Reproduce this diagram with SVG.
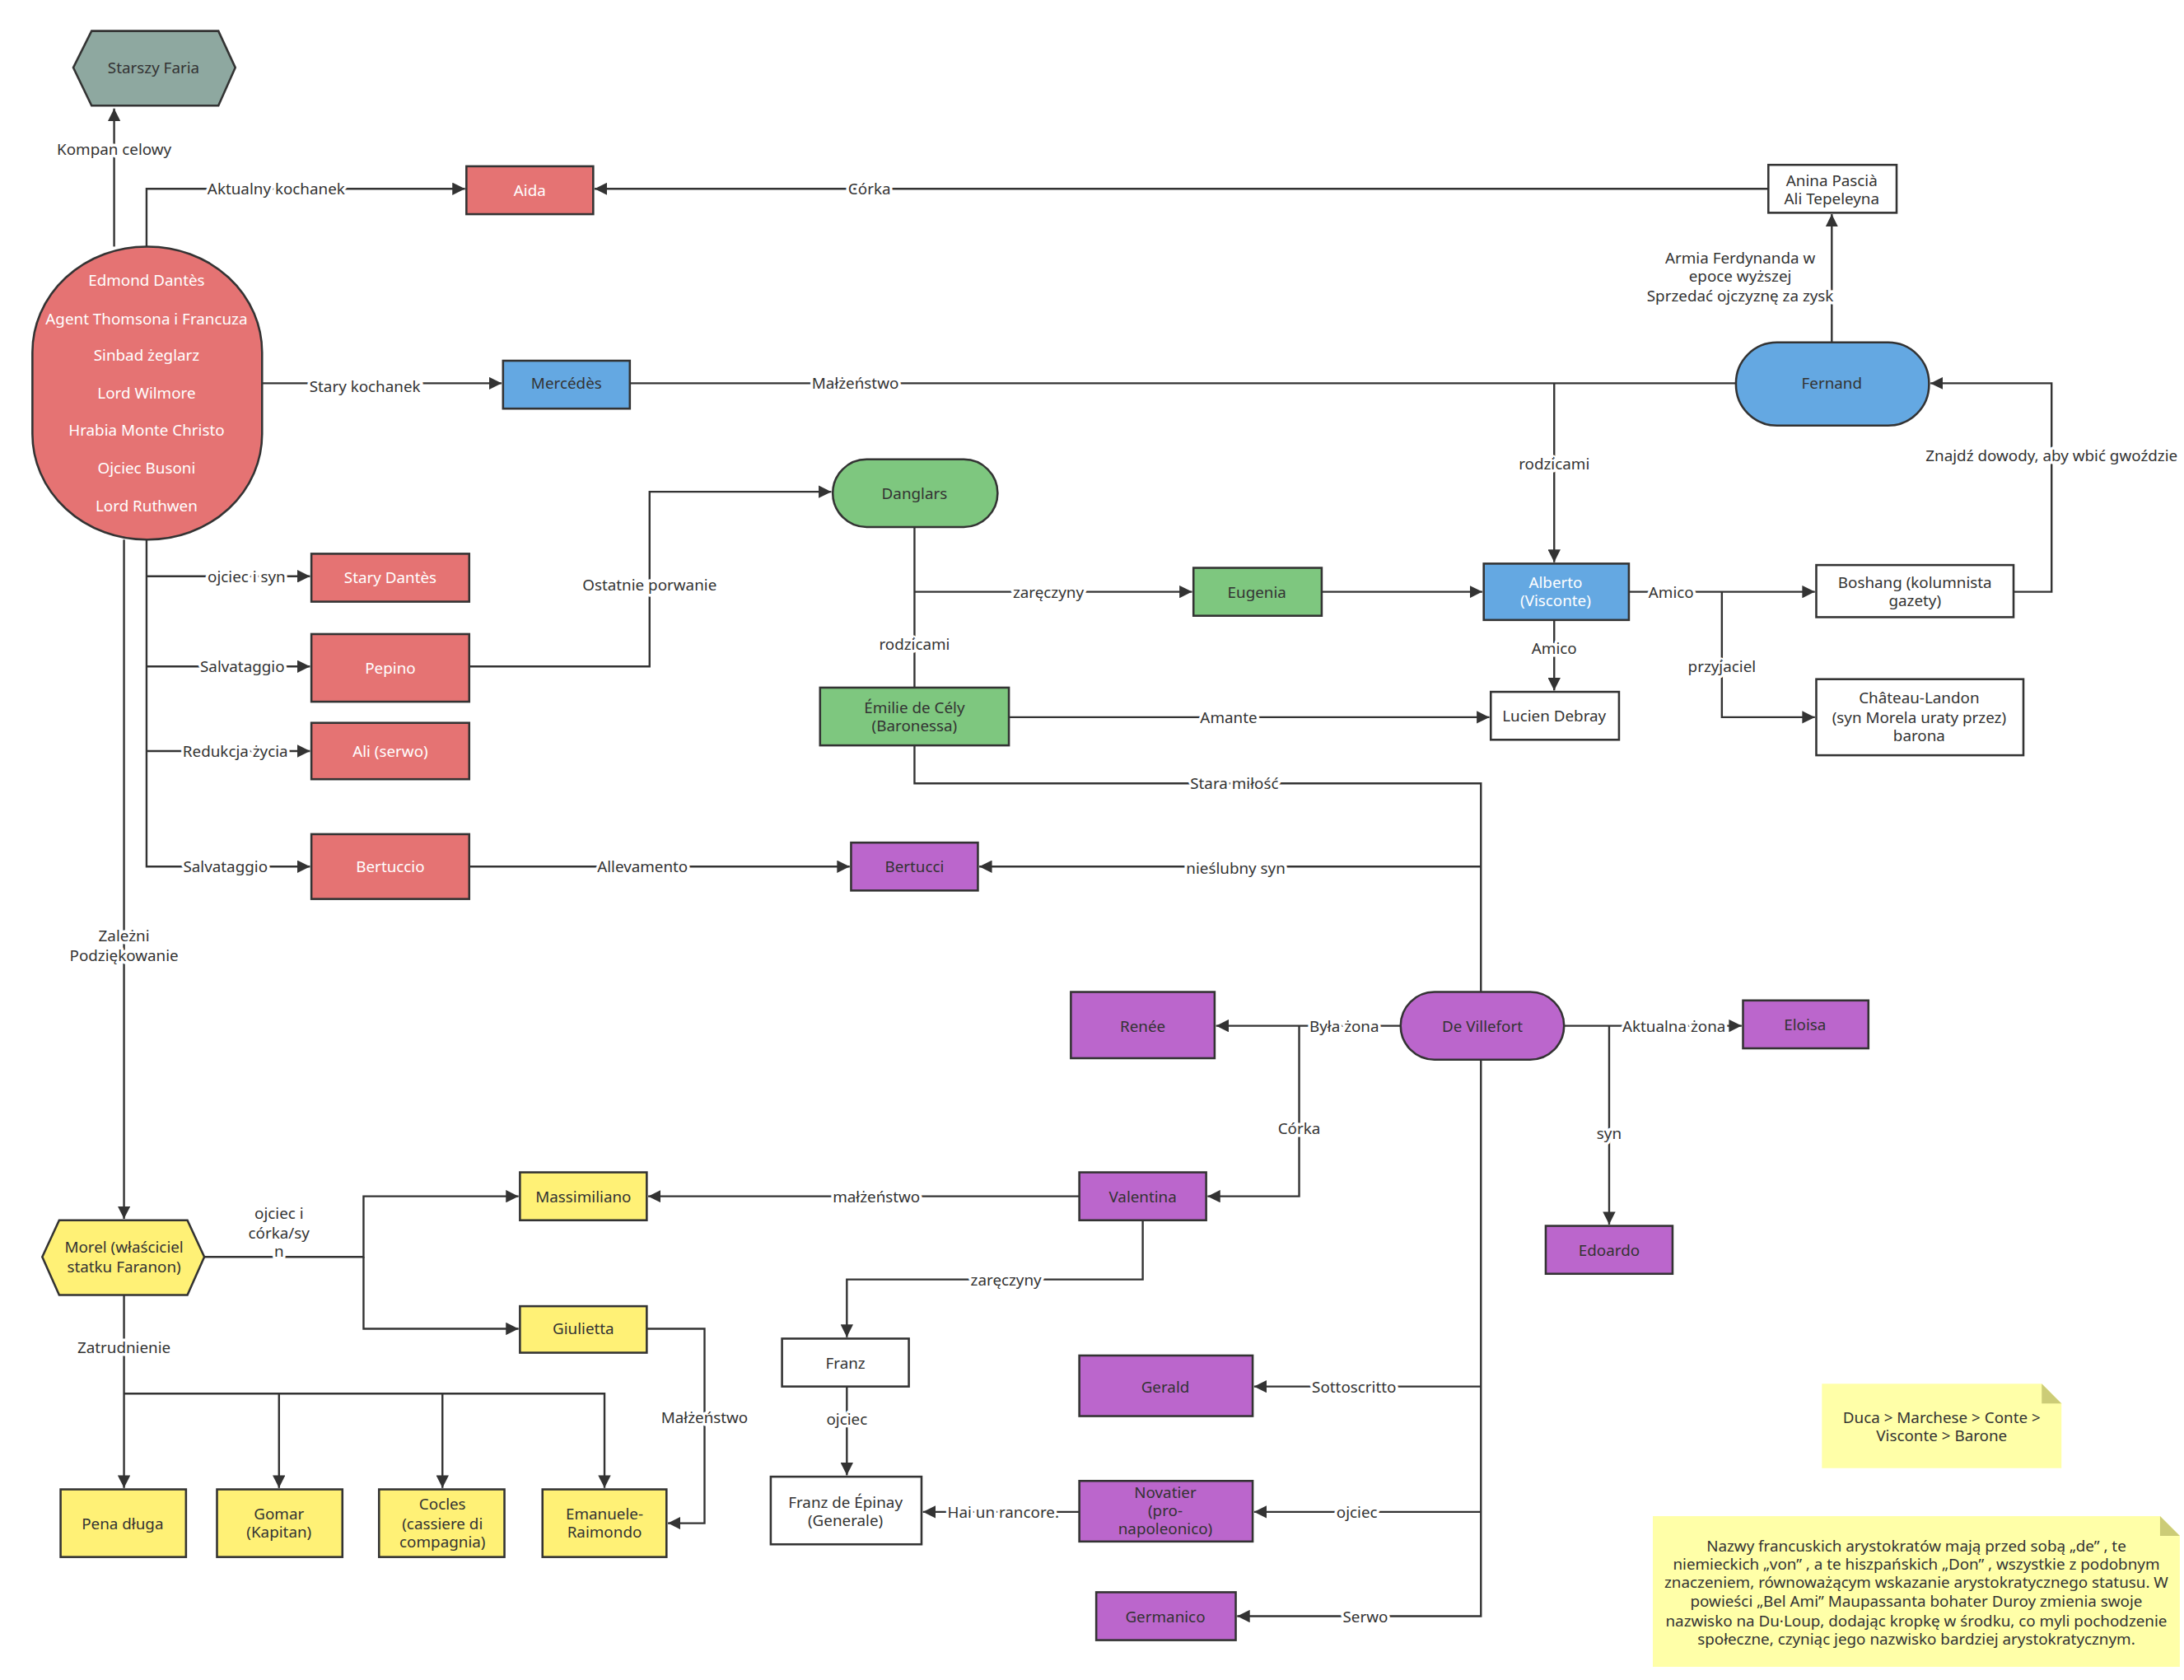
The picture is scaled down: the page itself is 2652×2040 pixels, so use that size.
<svg xmlns="http://www.w3.org/2000/svg" width="2652" height="2040" viewBox="0 0 2652 2040">
<defs>
<marker id="a" viewBox="0 0 10 10" refX="10" refY="5" markerWidth="9" markerHeight="9" markerUnits="userSpaceOnUse" orient="auto"><path d="M0,0 L10,5 L0,10 z" fill="#333"/></marker>
<style>
text{font-family:"Noto Sans","Liberation Sans",sans-serif;font-size:11px;fill:#333;text-anchor:middle;dominant-baseline:central}
.w{fill:#fff}
.n{stroke:#333;stroke-width:1.5}
.c path{fill:none;stroke:#333;stroke-width:1.4}
.l{stroke:#fff;stroke-width:4;paint-order:stroke;stroke-linejoin:round}
.red{fill:#e57373}.blue{fill:#64a8e2}.green{fill:#7ec77f}.pur{fill:#bb66cc}.yel{fill:#fff176}.wh{fill:#fff}
</style>
</defs>
<rect width="2652" height="2040" fill="#fff"/>
<g transform="scale(1.711)">
<g class="c">
<path d="M81,175 V77" marker-end="url(#a)"/>
<path d="M104,175 V134 H330" marker-end="url(#a)"/>
<path d="M1255,134 H422" marker-end="url(#a)"/>
<path d="M1300,243 V152" marker-end="url(#a)"/>
<path d="M186,272 H356" marker-end="url(#a)"/>
<path d="M447,272 H1232"/>
<path d="M1103,272 V399" marker-end="url(#a)"/>
<path d="M1429,420 H1456 V272 H1370" marker-end="url(#a)"/>
<path d="M649,374 V488"/>
<path d="M649,420 H846" marker-end="url(#a)"/>
<path d="M938,420 H1052" marker-end="url(#a)"/>
<path d="M1156,420 H1288" marker-end="url(#a)"/>
<path d="M1222,420 V509 H1288" marker-end="url(#a)"/>
<path d="M1103,440 V490" marker-end="url(#a)"/>
<path d="M716,509 H1057" marker-end="url(#a)"/>
<path d="M649,529 V556 H1051 V704"/>
<path d="M1051,615 H695" marker-end="url(#a)"/>
<path d="M104,383 V615 H220" marker-end="url(#a)"/>
<path d="M104,409 H220" marker-end="url(#a)"/>
<path d="M104,473 H220" marker-end="url(#a)"/>
<path d="M104,533 H220" marker-end="url(#a)"/>
<path d="M333,473 H461 V349 H590" marker-end="url(#a)"/>
<path d="M333,615 H603" marker-end="url(#a)"/>
<path d="M88,383 V865" marker-end="url(#a)"/>
<path d="M994,728 H863" marker-end="url(#a)"/>
<path d="M922,728 V849 H857" marker-end="url(#a)"/>
<path d="M1110,728 H1236" marker-end="url(#a)"/>
<path d="M1142,728 V869" marker-end="url(#a)"/>
<path d="M766,849 H460" marker-end="url(#a)"/>
<path d="M811,866 V908 H601 V949" marker-end="url(#a)"/>
<path d="M601,984 V1047" marker-end="url(#a)"/>
<path d="M766,1073 H655" marker-end="url(#a)"/>
<path d="M1051,752 V1147 H878" marker-end="url(#a)"/>
<path d="M1051,984 H890" marker-end="url(#a)"/>
<path d="M1051,1073 H890" marker-end="url(#a)"/>
<path d="M145,892 H258 V849 H368" marker-end="url(#a)"/>
<path d="M258,892 V943 H368" marker-end="url(#a)"/>
<path d="M459,943 H500 V1081 H474" marker-end="url(#a)"/>
<path d="M88,919 V1056" marker-end="url(#a)"/>
<path d="M88,989 H429 V1056" marker-end="url(#a)"/>
<path d="M198,989 V1056" marker-end="url(#a)"/>
<path d="M314,989 V1056" marker-end="url(#a)"/>
</g>
<g id="labels">
<text class="l" x="81" y="106">Kompan celowy</text>
<text class="l" x="196" y="134">Aktualny kochanek</text>
<text class="l" x="617" y="134">Córka</text>
<text class="l" x="1235" y="183">Armia Ferdynanda w</text>
<text class="l" x="1235" y="196">epoce wyższej</text>
<text class="l" x="1235" y="210">Sprzedać ojczyznę za zysk</text>
<text class="l" x="259" y="274">Stary kochanek</text>
<text class="l" x="607" y="272">Małżeństwo</text>
<text class="l" x="1103" y="329">rodzicami</text>
<text class="l" x="1456" y="323">Znajdź dowody, aby wbić gwoździe</text>
<text class="l" x="649" y="457">rodzicami</text>
<text class="l" x="744" y="420">zaręczyny</text>
<text class="l" x="1186" y="420">Amico</text>
<text class="l" x="1222" y="473">przyjaciel</text>
<text class="l" x="1103" y="460">Amico</text>
<text class="l" x="872" y="509">Amante</text>
<text class="l" x="876" y="556">Stara miłość</text>
<text class="l" x="877" y="616">nieślubny syn</text>
<text class="l" x="175" y="409">ojciec i syn</text>
<text class="l" x="172" y="473">Salvataggio</text>
<text class="l" x="167" y="533">Redukcja życia</text>
<text class="l" x="160" y="615">Salvataggio</text>
<text class="l" x="461" y="415">Ostatnie porwanie</text>
<text class="l" x="456" y="615">Allevamento</text>
<text class="l" x="88" y="664">Zależni</text>
<text class="l" x="88" y="678">Podziękowanie</text>
<text class="l" x="954" y="728">Była żona</text>
<text class="l" x="922" y="801">Córka</text>
<text class="l" x="1188" y="728">Aktualna żona</text>
<text class="l" x="1142" y="804">syn</text>
<text class="l" x="622" y="849">małżeństwo</text>
<text class="l" x="714" y="908">zaręczyny</text>
<text class="l" x="601" y="1007">ojciec</text>
<text class="l" x="712" y="1073">Hai un rancore.</text>
<text class="l" x="961" y="984">Sottoscritto</text>
<text class="l" x="963" y="1073">ojciec</text>
<text class="l" x="969" y="1147">Serwo</text>
<text class="l" x="198" y="861">ojciec i</text>
<text class="l" x="198" y="875">córka/sy</text>
<text class="l" x="198" y="888">n</text>
<text class="l" x="500" y="1006">Małżeństwo</text>
<text class="l" x="88" y="956">Zatrudnienie</text>
</g>
<g id="faria"><polygon class="n" points="52,48 65,22 155,22 167,48 155,75 65,75" fill="#8ea8a0"/><text x="109" y="48">Starszy Faria</text></g>
<g id="edmond"><rect class="n red" x="23" y="175" width="163" height="208" rx="81" ry="75"/>
<text class="w" x="104" y="199">Edmond Dantès</text><text class="w" x="104" y="226">Agent Thomsona i Francuza</text><text class="w" x="104" y="252">Sinbad żeglarz</text><text class="w" x="104" y="279">Lord Wilmore</text><text class="w" x="104" y="305">Hrabia Monte Christo</text><text class="w" x="104" y="332">Ojciec Busoni</text><text class="w" x="104" y="359">Lord Ruthwen</text></g>
<g id="aida"><rect class="n red" x="331" y="118" width="90" height="34"/><text class="w" x="376" y="135">Aida</text></g>
<g id="anina"><rect class="n wh" x="1255" y="117" width="91" height="34"/><text x="1300" y="128">Anina Pascià</text><text x="1300" y="141">Ali Tepeleyna</text></g>
<g id="mercedes"><rect class="n blue" x="357" y="256" width="90" height="34"/><text x="402" y="272">Mercédès</text></g>
<g id="fernand"><rect class="n blue" x="1232" y="243" width="137" height="59" rx="29"/><text x="1300" y="272">Fernand</text></g>
<g id="danglars"><rect class="n green" x="591" y="326" width="117" height="48" rx="24"/><text x="649" y="350">Danglars</text></g>
<g id="eugenia"><rect class="n green" x="847" y="403" width="91" height="34"/><text x="892" y="420">Eugenia</text></g>
<g id="alberto"><rect class="n blue" x="1053" y="400" width="103" height="40"/><text class="w" x="1104" y="413">Alberto</text><text class="w" x="1104" y="426">(Visconte)</text></g>
<g id="boshang"><rect class="n wh" x="1289" y="401" width="140" height="37"/><text x="1359" y="413">Boshang (kolumnista</text><text x="1359" y="426">gazety)</text></g>
<g id="chateau"><rect class="n wh" x="1289" y="482" width="147" height="54"/><text x="1362" y="495">Château-Landon</text><text x="1362" y="509">(syn Morela uraty przez)</text><text x="1362" y="522">barona</text></g>
<g id="lucien"><rect class="n wh" x="1058" y="491" width="91" height="34"/><text x="1103" y="508">Lucien Debray</text></g>
<g id="emilie"><rect class="n green" x="582" y="488" width="134" height="41"/><text x="649" y="502">Émilie de Cély</text><text x="649" y="515">(Baronessa)</text></g>
<g id="starydantes"><rect class="n red" x="221" y="393" width="112" height="34"/><text class="w" x="277" y="410">Stary Dantès</text></g>
<g id="pepino"><rect class="n red" x="221" y="450" width="112" height="48"/><text class="w" x="277" y="474">Pepino</text></g>
<g id="ali"><rect class="n red" x="221" y="513" width="112" height="40"/><text class="w" x="277" y="533">Ali (serwo)</text></g>
<g id="bertuccio"><rect class="n red" x="221" y="592" width="112" height="46"/><text class="w" x="277" y="615">Bertuccio</text></g>
<g id="bertucci"><rect class="n pur" x="604" y="598" width="90" height="34"/><text x="649" y="615">Bertucci</text></g>
<g id="villefort"><rect class="n pur" x="994" y="704" width="116" height="48" rx="24"/><text x="1052" y="728">De Villefort</text></g>
<g id="renee"><rect class="n pur" x="760" y="704" width="102" height="47"/><text x="811" y="728">Renée</text></g>
<g id="eloisa"><rect class="n pur" x="1237" y="710" width="89" height="34"/><text x="1281" y="727">Eloisa</text></g>
<g id="valentina"><rect class="n pur" x="766" y="832" width="90" height="34"/><text x="811" y="849">Valentina</text></g>
<g id="edoardo"><rect class="n pur" x="1097" y="870" width="90" height="34"/><text x="1142" y="887">Edoardo</text></g>
<g id="massimiliano"><rect class="n yel" x="369" y="832" width="90" height="34"/><text x="414" y="849">Massimiliano</text></g>
<g id="giulietta"><rect class="n yel" x="369" y="927" width="90" height="33"/><text x="414" y="943">Giulietta</text></g>
<g id="morel"><polygon class="n yel" points="30,892 42,866 133,866 145,892 133,919 42,919"/><text x="88" y="885">Morel (właściciel</text><text x="88" y="899">statku Faranon)</text></g>
<g id="franz"><rect class="n wh" x="555" y="950" width="90" height="34"/><text x="600" y="967">Franz</text></g>
<g id="epinay"><rect class="n wh" x="547" y="1048" width="107" height="48"/><text x="600" y="1066">Franz de Épinay</text><text x="600" y="1079">(Generale)</text></g>
<g id="gerald"><rect class="n pur" x="766" y="962" width="123" height="43"/><text x="827" y="984">Gerald</text></g>
<g id="novatier"><rect class="n pur" x="766" y="1051" width="123" height="43"/><text x="827" y="1059">Novatier</text><text x="827" y="1072">(pro-</text><text x="827" y="1085">napoleonico)</text></g>
<g id="germanico"><rect class="n pur" x="778" y="1130" width="99" height="34"/><text x="827" y="1147">Germanico</text></g>
<g id="pena"><rect class="n yel" x="43" y="1057" width="89" height="48"/><text x="87" y="1081">Pena długa</text></g>
<g id="gomar"><rect class="n yel" x="154" y="1057" width="89" height="48"/><text x="198" y="1074">Gomar</text><text x="198" y="1087">(Kapitan)</text></g>
<g id="cocles"><rect class="n yel" x="269" y="1057" width="89" height="48"/><text x="314" y="1067">Cocles</text><text x="314" y="1081">(cassiere di</text><text x="314" y="1094">compagnia)</text></g>
<g id="emanuele"><rect class="n yel" x="385" y="1057" width="88" height="48"/><text x="429" y="1074">Emanuele-</text><text x="429" y="1087">Raimondo</text></g>
<g id="note1"><polygon points="1293,982 1449,982 1463,996 1463,1042 1293,1042" fill="#ffffa8"/><polygon points="1449,982 1463,996 1449,996" fill="#cccc77"/><text x="1378" y="1006">Duca &gt; Marchese &gt; Conte &gt;</text><text x="1378" y="1019">Visconte &gt; Barone</text></g>
<g id="note2"><polygon points="1173,1076 1533,1076 1547,1090 1547,1183 1173,1183" fill="#ffffa8"/><polygon points="1533,1076 1547,1090 1533,1090" fill="#cccc77"/>
<text x="1360" y="1097">Nazwy francuskich arystokratów mają przed sobą „de” , te</text>
<text x="1360" y="1110">niemieckich „von” , a te hiszpańskich „Don” , wszystkie z podobnym</text>
<text x="1360" y="1123">znaczeniem, równoważącym wskazanie arystokratycznego statusu. W</text>
<text x="1360" y="1136">powieści „Bel Ami”  Maupassanta bohater Duroy zmienia swoje</text>
<text x="1360" y="1150">nazwisko na Du·Loup, dodając kropkę w środku, co myli pochodzenie</text>
<text x="1360" y="1163">społeczne, czyniąc jego nazwisko bardziej arystokratycznym.</text></g>
</g>
</svg>
